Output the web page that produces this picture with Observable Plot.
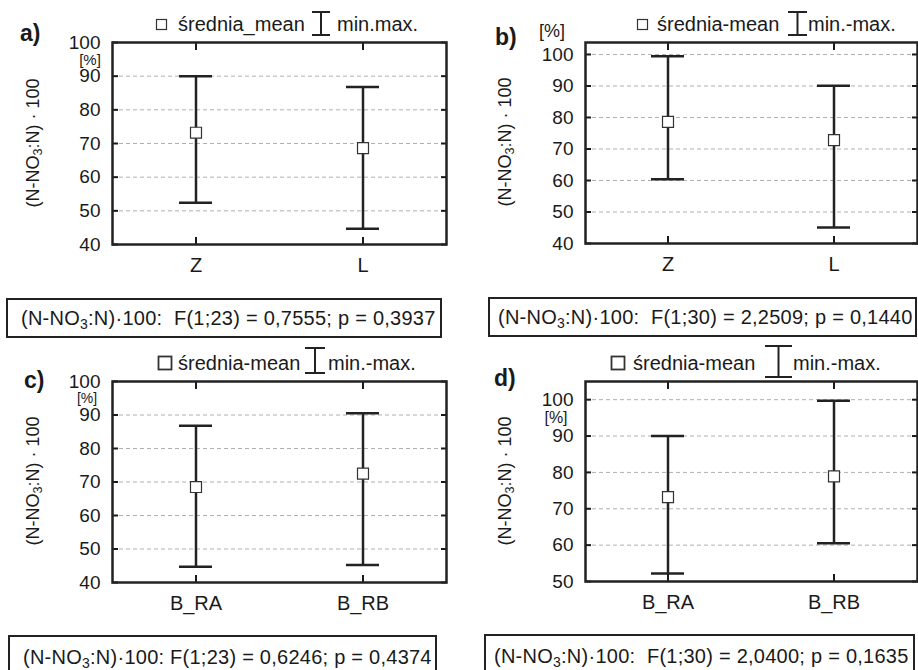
<!DOCTYPE html>
<html><head><meta charset="utf-8">
<script src="https://cdn.jsdelivr.net/npm/d3@7"></script>
<script src="https://cdn.jsdelivr.net/npm/@observablehq/plot@0.6"></script>
<style>
body{margin:0;background:#fff;}
#root{position:relative;width:918px;height:670px;overflow:hidden;font-family:"Liberation Sans",Arial,sans-serif;color:#1a1a1a;}
.abs{position:absolute;white-space:nowrap;line-height:1;}
.cap{position:absolute;border:2px solid #222;box-sizing:border-box;display:flex;align-items:center;white-space:nowrap;font-size:20px;letter-spacing:0.25px;}
sub{font-size:0.7em;vertical-align:-0.25em;line-height:0;}
.plot{position:absolute;}
</style></head><body><div id="root"></div>
<script>
// ---- data ----
const categoriesAB = ["Z", "L"];
const categoriesCD = ["B_RA", "B_RB"];
const meanA = [73.2, 68.6], minA = [52.4, 44.7], maxA = [90.0, 86.8];
const meanB = [78.6, 72.8], minB = [60.4, 45.1], maxB = [99.4, 90.1];
const meanC = [68.5, 72.5], minC = [44.7, 45.2], maxC = [86.8, 90.5];
const meanD = [73.2, 78.9], minD = [52.2, 60.5], maxD = [90.0, 99.7];
const yTicksABC = [40, 50, 60, 70, 80, 90, 100];
const yTicksD = [50, 60, 70, 80, 90, 100];
const statsA = "F(1;23) = 0,7555; p = 0,3937";
const statsB = "F(1;30) = 2,2509; p = 0,1440";
const statsC = "F(1;23) = 0,6246; p = 0,4374";
const statsD = "F(1;30) = 2,0400; p = 0,1635";
const meanLabels = ["średnia_mean", "średnia-mean", "średnia-mean", "średnia-mean"];
const rangeLabels = ["min.max.", "min.-max.", "min.-max.", "min.-max."];
const panelLetters = ["a)", "b)", "c)", "d)"];

const root = document.getElementById("root");
const FONT = '"Liberation Sans", Arial, sans-serif';

function el(html, css, cls = "abs") {
  const d = document.createElement("div");
  d.className = cls;
  d.innerHTML = html;
  Object.assign(d.style, css);
  root.appendChild(d);
  return d;
}

function panel(p) {
  const data = p.cats.map((c, i) => ({cat: c, mean: p.mean[i], min: p.min[i], max: p.max[i]}));
  const grid = p.ticks.filter(t => t > p.domain[0] && t < p.domain[1]);
  const svg = Plot.plot({
    width: p.w, height: p.h,
    marginLeft: p.mL, marginRight: p.mR, marginTop: p.mT, marginBottom: p.mB,
    style: {fontFamily: FONT, fontSize: "19px", color: "#1a1a1a", background: "transparent", overflow: "visible"},
    x: {type: "band", domain: p.cats, paddingInner: 0.8, paddingOuter: 0.4},
    y: {domain: p.domain},
    marks: [
      Plot.gridY(grid, {stroke: "#b0b0b0", strokeOpacity: 1, strokeDasharray: "4,3", strokeWidth: 1}),
      Plot.axisY(p.ticks, {anchor: "left", tickSize: -6, tickPadding: 18, strokeWidth: 2, label: null, fill: "#1a1a1a", fontSize: 19}),
      Plot.axisY(p.ticks, {anchor: "right", tickSize: -6, tickFormat: () => "", strokeWidth: 2, label: null}),
      Plot.axisX({anchor: "bottom", tickSize: -7, tickPadding: 20, strokeWidth: 2, label: null, fill: "#1a1a1a", fontSize: 20}),
      Plot.axisX({anchor: "top", tickSize: -7, tickFormat: () => "", strokeWidth: 2, label: null}),
      Plot.ruleX(data, {x: "cat", y1: "min", y2: "max", stroke: "#222", strokeWidth: 2.5}),
      Plot.tickY(data, {x: "cat", y: "max", stroke: "#222", strokeWidth: 2.5}),
      Plot.tickY(data, {x: "cat", y: "min", stroke: "#222", strokeWidth: 2.5}),
      Plot.dot(data, {x: "cat", y: "mean", symbol: "square", r: 6.2, fill: "white", stroke: "#333", strokeWidth: 1.2}),
      Plot.frame({stroke: "#222", strokeWidth: 2.5})
    ]
  });
  svg.classList.add("plot");
  svg.style.left = p.left + "px";
  svg.style.top = p.top + "px";
  root.appendChild(svg);

  // panel letter
  el(panelLetters[p.i], {left: p.letter[0] + "px", top: p.letter[1] + "px", transform: "translateY(-50%)", fontSize: "23px", fontWeight: "bold"});
  // [%]
  el("[%]", {left: p.pct[0] + "px", top: p.pct[1] + "px", transform: "translate(-50%,-50%)", fontSize: p.pctSize + "px"});
  // y label
  el("(N-NO<sub>3</sub>:N) · 100", {left: p.ylab[0] + "px", top: p.ylab[1] + "px", transform: "translate(-50%,-50%) rotate(-90deg)", fontSize: "18px"});
  // legend
  const L = p.leg;
  el(`<svg width="${L.sq + 3}" height="${L.sq + 3}"><rect x="1.5" y="1.5" width="${L.sq}" height="${L.sq}" fill="white" stroke="#333" stroke-width="${L.sqw}"/></svg>`,
     {left: (L.sqx - L.sq / 2 - 1.5) + "px", top: (L.y - L.sq / 2 - 1.5) + "px"});
  el(meanLabels[p.i], {left: L.t1 + "px", top: L.y + "px", transform: "translateY(-50%)", fontSize: "20px"});
  const iw = L.ix2 - L.ix1, ih = L.iy2 - L.iy1;
  el(`<svg width="${iw + 2}" height="${ih + 2}"><g stroke="#222" stroke-width="2"><line x1="1" x2="${iw + 1}" y1="1" y2="1"/><line x1="1" x2="${iw + 1}" y1="${ih + 1}" y2="${ih + 1}"/><line x1="${iw / 2 + 1}" x2="${iw / 2 + 1}" y1="1" y2="${ih + 1}"/></g></svg>`,
     {left: (L.ix1 - 1) + "px", top: (L.iy1 - 1) + "px"});
  el(rangeLabels[p.i], {left: L.t2 + "px", top: L.y + "px", transform: "translateY(-50%)", fontSize: "20px"});
  // caption
  const C = p.cap;
  el(`<span>(N-NO<sub>3</sub>:N)·100:${C.gap}${p.stats}</span>`,
     {left: C.x1 + "px", top: C.y1 + "px", width: (C.x2 - C.x1) + "px", height: C.hh + "px", paddingLeft: C.pad + "px"}, "cap");
}

const common = {w: 459, h: 290};
panel({...common, i: 0, left: 0, top: 0, mL: 112, mR: 13, mT: 42, mB: 46,
  cats: categoriesAB, mean: meanA, min: minA, max: maxA, domain: [40, 100], ticks: yTicksABC,
  letter: [20, 33], pct: [90, 59], pctSize: 15, ylab: [33, 143],
  leg: {sqx: 161, y: 24, sq: 10, sqw: 1.2, t1: 178, ix1: 312, ix2: 330, iy1: 12, iy2: 35, t2: 337},
  cap: {x1: 6, y1: 298, x2: 442, hh: 40, pad: 13, gap: "&nbsp; "}, stats: statsA});
panel({...common, i: 1, left: 459, top: 0, mL: 126, mR: 1, mT: 42, mB: 47,
  cats: categoriesAB, mean: meanB, min: minB, max: maxB, domain: [40, 103.8], ticks: yTicksABC,
  letter: [495, 37], pct: [552, 31], pctSize: 18, ylab: [505, 142],
  leg: {sqx: 642, y: 24, sq: 10, sqw: 1.2, t1: 657, ix1: 788, ix2: 807, iy1: 12, iy2: 35, t2: 808},
  cap: {x1: 488, y1: 297, x2: 917, hh: 40, pad: 8, gap: "&nbsp; "}, stats: statsB});
panel({...common, i: 2, left: 0, top: 335, mL: 112, mR: 13, mT: 46, mB: 43,
  cats: categoriesCD, mean: meanC, min: minC, max: maxC, domain: [40, 100], ticks: yTicksABC,
  letter: [24, 380], pct: [87, 398], pctSize: 14, ylab: [33, 481],
  leg: {sqx: 165, y: 363, sq: 13, sqw: 1.8, t1: 178, ix1: 305, ix2: 325, iy1: 348, iy2: 373, t2: 328},
  cap: {x1: 8, y1: 635, x2: 437, hh: 45, pad: 13, gap: " "}, stats: statsC});
panel({...common, i: 3, left: 459, top: 335, mL: 126, mR: 1, mT: 46, mB: 44,
  cats: categoriesCD, mean: meanD, min: minD, max: maxD, domain: [50, 105], ticks: yTicksD,
  letter: [494, 378], pct: [556, 418], pctSize: 16, ylab: [505, 481],
  leg: {sqx: 618, y: 363, sq: 13, sqw: 1.8, t1: 633, ix1: 765, ix2: 792, iy1: 346, iy2: 377, t2: 793},
  cap: {x1: 484, y1: 634, x2: 915, hh: 45, pad: 8, gap: "&nbsp; "}, stats: statsD});
</script>
</body></html>
